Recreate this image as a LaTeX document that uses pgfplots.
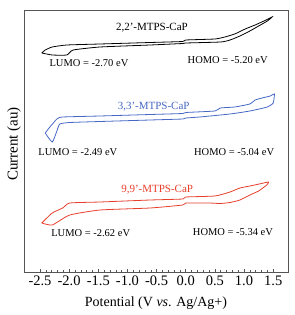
\documentclass[border=0pt]{standalone}
\usepackage{fontspec}
\setmainfont{Liberation Serif}
\usepackage{pgfplots}
\pgfplotsset{compat=1.18}
\definecolor{cvblue}{RGB}{70,104,196}
\definecolor{cvred}{RGB}{232,62,44}
\definecolor{axgray}{RGB}{85,85,85}
\begin{document}
\begin{tikzpicture}
\useasboundingbox (-25pt,-43pt) rectangle (269pt,272pt);
\begin{axis}[
  scale only axis, width=263pt, height=261pt,
  xmin=-2.757, xmax=1.754, ymin=-272, ymax=-11,
  axis line style={axgray, line width=1pt},
  xtick={-2.5,-2,-1.5,-1,-0.5,0,0.5,1,1.5},
  xticklabels={-2.5,-2.0,-1.5,-1.0,-0.5,0.0,0.5,1.0,1.5},
  minor x tick num=4,
  xtick pos=lower, tick align=inside,
  major tick length=3.5pt, minor tick length=2pt,
  every tick/.style={axgray, line width=0.5pt},
  ytick=\empty,
  ticklabel style={font=\fontsize{14.5}{14.5}\selectfont},
  xlabel={Potential (V \textit{vs}. Ag/Ag+)},
  ylabel={Current (au)},
  every axis x label/.style={at={(axis description cs:0.498,-0.119)}, anchor=center, font=\fontsize{14}{14}\selectfont},
  every axis y label/.style={at={(axis description cs:-0.042,0.49)}, rotate=90, anchor=center, font=\fontsize{15}{15}\selectfont},
  clip=false,
]
% 2,2'-MTPS-CaP
\addplot[black, line width=0.8pt, smooth, tension=0.3] coordinates {
(-2.47,-53) (-2.41,-50) (-2.29,-47) (-2.04,-45) (-1.47,-44) (-0.61,-42.5) (-0.05,-41.5) (0.0,-40) (0.5,-39) (0.67,-37) (0.84,-34) (1.02,-29) (1.19,-25) (1.36,-20.5) (1.48,-17)
(1.40,-21) (1.25,-26) (1.10,-31) (0.93,-36) (0.76,-40) (0.6,-42) (0.0,-43) (-0.05,-43.5) (-0.61,-45) (-1.47,-47) (-1.93,-50) (-2.04,-55) (-2.29,-55) (-2.47,-53)
};
% 3,3'-MTPS-CaP
\addplot[cvblue, line width=0.8pt, smooth, tension=0.3] coordinates {
(-2.41,-133) (-2.33,-127) (-2.21,-119) (-2.11,-117) (-1.47,-116) (-0.61,-114.5) (-0.05,-113.5) (0.0,-112.5) (0.5,-111) (0.59,-108) (0.84,-107) (1.10,-104) (1.19,-100) (1.31,-98) (1.45,-96) (1.52,-94)
(1.50,-103) (1.40,-107) (1.10,-111) (0.76,-114) (0.24,-117) (0.0,-118) (-0.05,-119) (-0.61,-120) (-1.47,-121.5) (-1.99,-122.5) (-2.16,-124) (-2.21,-131) (-2.29,-142) (-2.41,-133)
};
% 9,9'-MTPS-CaP
\addplot[cvred, line width=0.8pt, smooth, tension=0.3] coordinates {
(-2.47,-223) (-2.29,-213) (-2.11,-208) (-1.99,-203) (-1.47,-202) (-0.61,-200) (-0.05,-199) (0.0,-197) (0.5,-196) (0.76,-192) (0.93,-188) (1.10,-186) (1.30,-183.5) (1.42,-182)
(1.39,-185) (1.25,-191) (1.10,-195) (0.93,-200) (0.76,-202.5) (0.59,-203.5) (0.4,-203) (0.0,-203) (-0.05,-205) (-0.61,-208) (-1.47,-210) (-1.99,-215) (-2.29,-225) (-2.47,-223)
};
\node[font=\fontsize{11}{11}\selectfont] at (axis cs:-0.58,-28) {2,2'-MTPS-CaP};
\node[font=\fontsize{10.5}{10.5}\selectfont] at (axis cs:-1.66,-63) {LUMO = -2.70 eV};
\node[font=\fontsize{10.5}{10.5}\selectfont] at (axis cs:0.72,-60) {HOMO = -5.20 eV};
\node[font=\fontsize{11}{11}\selectfont, text=cvblue] at (axis cs:-0.55,-107) {3,3'-MTPS-CaP};
\node[font=\fontsize{10.5}{10.5}\selectfont] at (axis cs:-1.85,-152) {LUMO = -2.49 eV};
\node[font=\fontsize{10.5}{10.5}\selectfont] at (axis cs:0.83,-152) {HOMO = -5.04 eV};
\node[font=\fontsize{11}{11}\selectfont, text=cvred] at (axis cs:-0.49,-190) {9,9'-MTPS-CaP};
\node[font=\fontsize{10.5}{10.5}\selectfont] at (axis cs:-1.63,-233) {LUMO = -2.62 eV};
\node[font=\fontsize{10.5}{10.5}\selectfont] at (axis cs:0.81,-232) {HOMO = -5.34 eV};
\end{axis}
\end{tikzpicture}
\end{document}
